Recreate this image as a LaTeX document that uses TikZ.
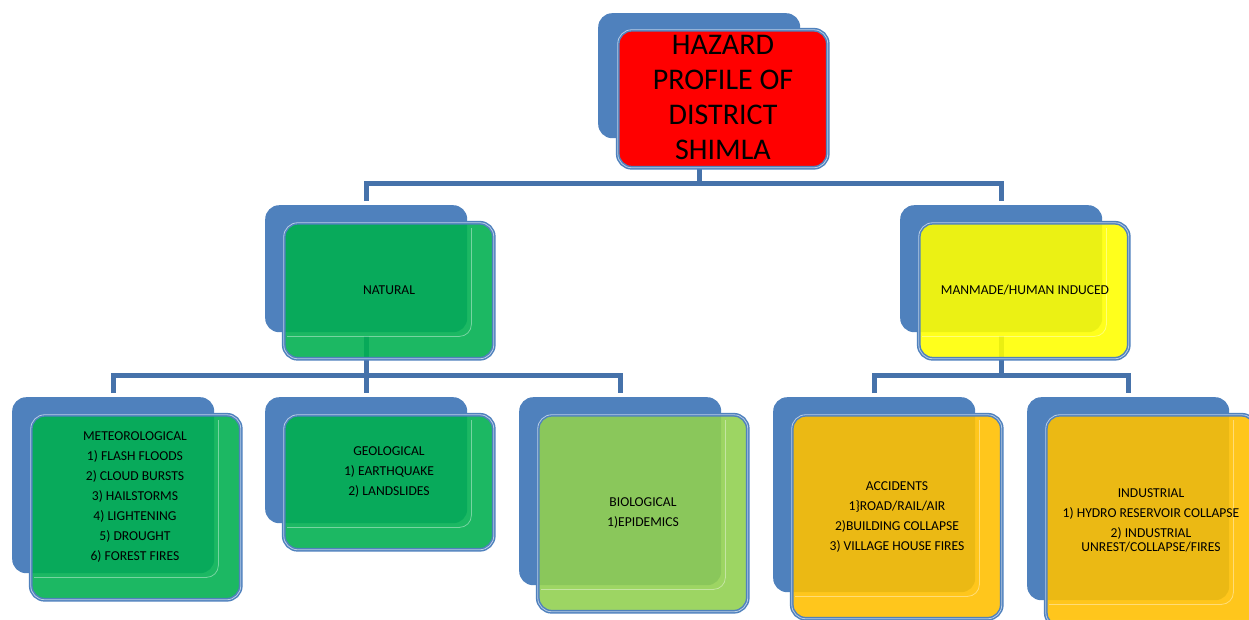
\documentclass[tikz,border=0pt]{standalone}
\usepackage{fontspec}
\setmainfont{Carlito}
\usetikzlibrary{calc}

\definecolor{backblue}{HTML}{4F81BD}
\definecolor{linkblue}{HTML}{4672AA}
\definecolor{rimlight}{HTML}{B9CDE5}
\definecolor{hzred}{HTML}{FF0000}
\definecolor{hzgreen}{HTML}{00B050}
\definecolor{hzlime}{HTML}{92D050}
\definecolor{hzyellow}{HTML}{FFFF00}
\definecolor{hzamber}{HTML}{FFC000}

\tikzset{
  backbox/.style={fill=backblue, draw=none, rounded corners=14pt,
    minimum width=202pt, inner sep=0pt, anchor=north west},
  frontbox/.style={draw=backblue, double=rimlight, double distance=0.8pt,
    line width=1.5pt, rounded corners=14pt, minimum width=210pt,
    inner sep=0pt, anchor=north west, fill opacity=0.89},
  conn/.style={draw=linkblue, line width=5pt, line join=miter},
  gleam/.style={draw=white, opacity=0.4, line width=0.8pt, rounded corners=12pt},
  itemtext/.style={font=\fontsize{13.6}{20}\selectfont, align=center, text=black},
  titletext/.style={font=\fontsize{30}{35}\selectfont, align=center, text=black}
}

% back card: name, left x, top y, height
\newcommand\hzback[4]{\node[backbox, minimum height={#4}] (#1B) at (#2,#3) {};}
% front card, offset from the back card: name, left x, top y, back height, fill
\newcommand\hzfront[5]{\node[frontbox, fill=#5, minimum height={#4+9}] (#1F) at ({#2+18},{#3+17}) {};}
% faint light rim echoing the back card through the front card
\newcommand\hzgleam[1]{\draw[gleam]
  ($(#1B.east |- #1F.north)+(4pt,-6pt)$) -- ($(#1B.south east)+(4pt,-4pt)$)
  -- ($(#1F.west |- #1B.south)+(4pt,-4pt)$);}

\begin{document}
\begin{tikzpicture}[x=1pt, y=-1pt]
\useasboundingbox (0,0) rectangle (1249,619);
\fill[white] (0,0) rectangle (1249,619);
\clip (0,0) rectangle (1249,619);

% bus levels of the tree
\coordinate (bus1) at (0,183);
\coordinate (bus2) at (0,375.5);

% back cards
\hzback{top}{598}{13}{125}
\hzback{nat}{265}{205}{127}
\hzback{man}{900}{205}{127}
\hzback{met}{12}{397}{176}
\hzback{geo}{265}{397}{126}
\hzback{bio}{519}{397}{188}
\hzback{acc}{773}{397}{195}
\hzback{ind}{1027}{397}{203}

% connectors
\draw[conn] (topB.south) -- (topB.south |- bus1);
\draw[conn] ([yshift=4pt]natB.north) |- (topB.south |- bus1) -| ([yshift=4pt]manB.north);
\draw[conn] ([yshift=4pt]metB.north) |- (natB.south |- bus2) -| ([yshift=4pt]bioB.north);
\draw[conn] ([yshift=-4pt]natB.south) -- ([yshift=4pt]geoB.north);
\draw[conn] ([yshift=4pt]accB.north) |- (manB.south |- bus2) -| ([yshift=4pt]indB.north);
\draw[conn] ([yshift=-4pt]manB.south) -- (manB.south |- bus2);

% front cards
\node[frontbox, fill=hzred, fill opacity=1, minimum height=138] (topF) at (617,29) {};
\hzfront{nat}{265}{205}{127}{hzgreen}
\hzfront{man}{900}{205}{127}{hzyellow}
\hzfront{met}{12}{397}{176}{hzgreen}
\hzfront{geo}{265}{397}{126}{hzgreen}
\hzfront{bio}{519}{397}{188}{hzlime}
\hzfront{acc}{773}{397}{195}{hzamber}
\hzfront{ind}{1027}{397}{203}{hzamber}

\hzgleam{nat}
\hzgleam{man}
\hzgleam{met}
\hzgleam{geo}
\hzgleam{bio}
\hzgleam{acc}
\hzgleam{ind}

% texts
\node[titletext] (topT) at (723,97) {HAZARD\\PROFILE OF\\DISTRICT\\SHIMLA};
\node[itemtext] (natT) at (389,290) {NATURAL};
\node[itemtext] (manT) at (1025,290) {MANMADE/HUMAN INDUCED};
\node[itemtext] (metT) at (135,497) {METEOROLOGICAL\\1) FLASH FLOODS\\2) CLOUD BURSTS\\3) HAILSTORMS\\4) LIGHTENING\\5) DROUGHT\\6) FOREST FIRES};
\node[itemtext] (geoT) at (389,472) {GEOLOGICAL\\1) EARTHQUAKE\\2) LANDSLIDES};
\node[itemtext] (bioT) at (643,513) {BIOLOGICAL\\1)EPIDEMICS};
\node[itemtext] (accT) at (897,517) {ACCIDENTS\\1\}ROAD/RAIL/AIR\\2)BUILDING COLLAPSE\\3) VILLAGE HOUSE FIRES};
\node[itemtext] (indT) at (1151,520) {INDUSTRIAL\\1) HYDRO RESERVOIR COLLAPSE\\2) INDUSTRIAL\\[-6pt]UNREST/COLLAPSE/FIRES};
\end{tikzpicture}
\end{document}
